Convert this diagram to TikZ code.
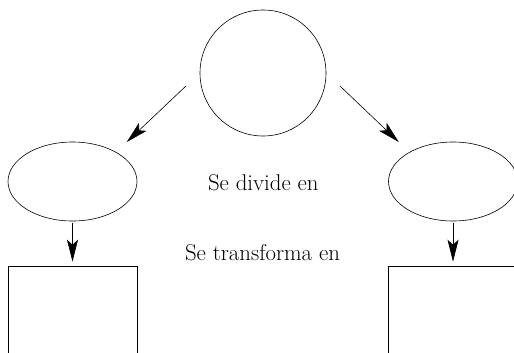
\documentclass[tikz,border=0pt]{standalone}
\usepackage{fontspec}
\usetikzlibrary{shapes.geometric,arrows.meta}
\newcommand\phrasefont{\fontsize{22.8pt}{27pt}\selectfont}
\begin{document}
\begin{tikzpicture}[x=1pt,y=-1pt,line width=0.6pt,
    arr/.style={-{Stealth[length=22pt,width=11pt,inset=5pt]}},
    oval/.style={draw,ellipse,minimum width=129pt,minimum height=79pt,inner sep=0pt},
    block/.style={draw,rectangle,minimum width=129pt,minimum height=180pt,inner sep=0pt},
    phrase/.style={anchor=base,inner sep=0pt}]
  \useasboundingbox (0,0) rectangle (514,353);
  \node[draw,circle,minimum size=126pt,inner sep=0pt] (top) at (263,73) {};
  \node[oval] (left) at (72.5,181.5) {};
  \node[oval] (right) at (453,181.5) {};
  \node[block] (leftbox) at (72.5,356) {};
  \node[block] (rightbox) at (453,356) {};
  \node[phrase] (divide) at (263.3,190) {\phrasefont Se divide en};
  \node[phrase] (transform) at (262.5,260) {\phrasefont Se transforma en};
  \begin{scope}[arr]
    \draw[shorten <=18.6pt,shorten >=14.6pt] (top.180) to (left.34);
    \draw[shorten <=18.6pt,shorten >=14.6pt] (top.0) to (right.146);
    \draw[shorten <=2pt,shorten >=4pt] (left.south) to (leftbox.north);
    \draw[shorten <=2pt,shorten >=4pt] (right.south) to (rightbox.north);
  \end{scope}
\end{tikzpicture}
\end{document}
